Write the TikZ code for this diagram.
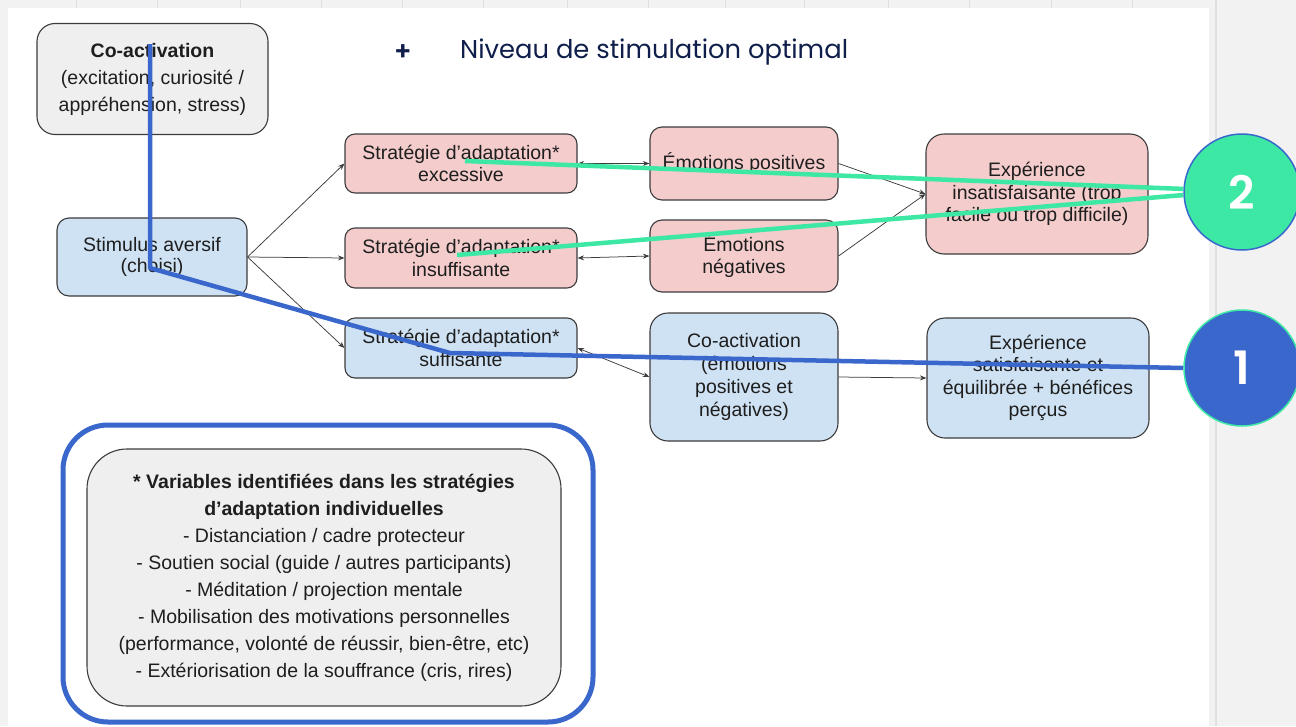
\documentclass[tikz,border=0pt]{standalone}
\usepackage{fontspec}
\setmainfont{Liberation Sans}
\newfontfamily\titlefont{Poppins}
\newfontfamily\badgefont{Poppins}[UprightFont={* SemiBold}]
\usetikzlibrary{arrows.meta}
\definecolor{pagegray}{HTML}{F2F2F2}
\definecolor{gridgray}{HTML}{E0E0E0}
\definecolor{boxgray}{HTML}{EFEFEF}
\definecolor{boxblue}{HTML}{CFE2F3}
\definecolor{boxpink}{HTML}{F4CCCC}
\definecolor{edgegray}{HTML}{3C3C3C}
\definecolor{txt}{HTML}{1E1E1E}
\definecolor{annblue}{HTML}{3A67CC}
\definecolor{anngreen}{HTML}{3DE8A5}
\definecolor{navy}{HTML}{0F1E4A}
\begin{document}
\begin{tikzpicture}[x=1pt,y=-1pt,
  box/.style={draw=edgegray, line width=1.1pt, rounded corners=12pt, align=center,
    text=txt, inner sep=0pt, font=\fontsize{19.5}{22.5}\selectfont},
  conn/.style={draw=edgegray, line width=0.75pt, -{Stealth[length=6.5pt,width=5pt]}},
  bconn/.style={draw=edgegray, line width=0.75pt, {Stealth[length=6.5pt,width=5pt]}-{Stealth[length=6.5pt,width=5pt]}},
  annb/.style={draw=annblue, line width=4.5pt},
  anng/.style={draw=anngreen, line width=4.5pt},
  badge/.style={circle, minimum size=116pt, inner sep=0pt, text=white,
    font=\badgefont\fontsize{46}{46}\selectfont}
]
\useasboundingbox (0,0) rectangle (1296,726);
% background
\fill[pagegray] (0,0) rectangle (1296,726);
\fill[white] (8,8) rectangle (1209,726);
\foreach \gx in {76,157,240,321,402,483,567,648,725,804,888,969,1051,1132}
  \draw[gridgray, line width=0.8pt] (\gx,0) -- (\gx,8);
\draw[gridgray, line width=1.5pt] (1216,0) -- (1216,726);

% title
\node[text=navy, font=\badgefont\fontsize{26}{26}\selectfont] (plus) at (403,53) {+};
\node[text=navy, font=\titlefont\fontsize{25.8}{25.8}\selectfont, anchor=west, inner sep=0pt] (title) at (460,52) {Niveau de stimulation optimal};

% nodes
\node[box, fill=boxgray, rounded corners=18pt, minimum width=231pt, minimum height=111pt,
  font=\fontsize{19.5}{27}\selectfont] (coact1) at (152.5,79)
  {\textbf{Co-activation}\\(excitation, curiosité /\\appréhension, stress)};
\node[box, fill=boxblue, minimum width=190pt, minimum height=78pt, font=\fontsize{19.5}{21.5}\selectfont] (stim) at (152,257)
  {Stimulus aversif\\(choisi)};
\node[box, fill=boxpink, rounded corners=10pt, minimum width=232pt, minimum height=59pt] (sexc) at (461,163.5)
  {Stratégie d’adaptation*\\excessive};
\node[box, fill=boxpink, rounded corners=10pt, minimum width=232pt, minimum height=60pt] (sins) at (461,258)
  {Stratégie d’adaptation*\\insuffisante};
\node[box, fill=boxblue, rounded corners=10pt, minimum width=232pt, minimum height=60pt] (ssuf) at (461,348)
  {Stratégie d’adaptation*\\suffisante};
\node[box, fill=boxpink, minimum width=188pt, minimum height=73pt] (epos) at (744,163.5)
  {Émotions positives};
\node[box, fill=boxpink, minimum width=188pt, minimum height=72pt] (eneg) at (744,256)
  {Émotions\\négatives};
\node[box, fill=boxblue, rounded corners=18pt, minimum width=188pt, minimum height=128pt,
  font=\fontsize{19.5}{23.3}\selectfont] (coact2) at (744,377)
  {Co-activation\\(émotions\\positives et\\négatives)};
\node[box, fill=boxpink, rounded corners=18pt, minimum width=222pt, minimum height=120pt] (xins) at (1037,194)
  {Expérience\\insatisfaisante (trop\\facile ou trop difficile)};
\node[box, fill=boxblue, rounded corners=18pt, minimum width=222pt, minimum height=120pt] (xsat) at (1038,378)
  {Expérience\\satisfaisante et\\équilibrée + bénéfices\\perçus};
\node[box, fill=boxgray, rounded corners=40pt, minimum width=474pt, minimum height=257pt,
  font=\fontsize{19.5}{27}\selectfont] (vars) at (324,577.5)
  {\textbf{* Variables identifiées dans les stratégies}\\
   \textbf{d’adaptation individuelles}\\
   - Distanciation / cadre protecteur\\
   - Soutien social (guide / autres participants)\\
   - Méditation / projection mentale\\
   - Mobilisation des motivations personnelles\\
   (performance, volonté de réussir, bien-être, etc)\\
   - Extériorisation de la souffrance (cris, rires)};
\draw[annblue, line width=5pt, rounded corners=45pt] (63,425) rectangle (593,722);

% connectors
\draw[conn] (stim.east) -- (sexc.west);
\draw[conn] (stim.east) -- (sins.west);
\draw[conn] (stim.east) -- (ssuf.west);
\draw[bconn] (sexc.east) -- (epos.west);
\draw[bconn] (sins.east) -- (eneg.west);
\draw[bconn] (ssuf.east) -- (coact2.west);
\draw[conn] (epos.east) -- (xins.west);
\draw[conn] (eneg.east) -- (xins.west);
\draw[conn] (coact2.east) -- (xsat.west);

% badges
\node[badge, fill=annblue, draw=anngreen, line width=1.5pt] (b1) at (1242,368) {1};
\node[badge, fill=anngreen, draw=annblue, line width=1.5pt] (b2) at (1242,192) {2};

% annotation strokes
\coordinate (k1) at (450,353);
\coordinate (k2) at (150,268);
\coordinate (k3) at (150,44);
\coordinate (g1) at (465,161);
\coordinate (g2) at (457,255);
\draw[annb, line join=round] (b1.west) -- (k1) -- (k2) -- (k3);
\draw[anng] (g1) -- (b2.177);
\draw[anng] (g2) -- (b2.183);
\end{tikzpicture}
\end{document}
